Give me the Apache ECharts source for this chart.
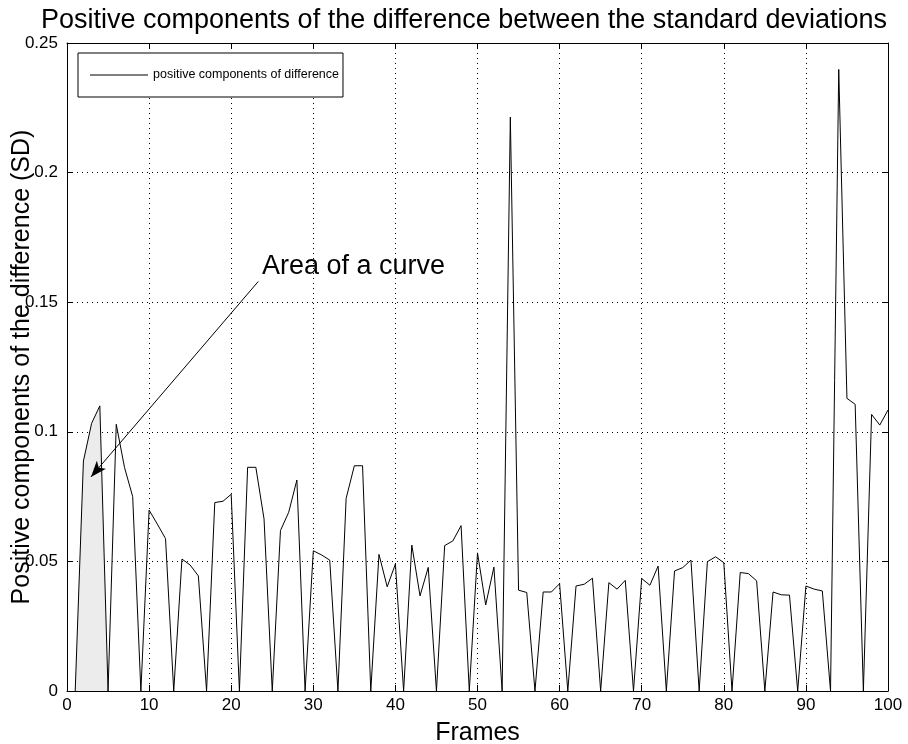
<!DOCTYPE html>
<html>
<head>
<meta charset="utf-8">
<script src="https://cdn.jsdelivr.net/npm/echarts@6/dist/echarts.min.js"></script>
<style>html,body{margin:0;padding:0;background:#fff}#c{width:908px;height:744px}</style>
</head>
<body>
<div id="c"></div>
<script>
var frames = [];
for (var i = 1; i <= 100; i++) frames.push(i);
var diffValues = [
  0, 0.0887, 0.1033, 0.1100, 0, 0.1029, 0.0863, 0.0750, 0, 0.0698,
  0.0644, 0.0588, 0, 0.0509, 0.0486, 0.0444, 0, 0.0727, 0.0732, 0.0759,
  0, 0.0863, 0.0863, 0.0664, 0, 0.0619, 0.0689, 0.0814, 0, 0.0541,
  0.0525, 0.0505, 0, 0.0743, 0.0869, 0.0869, 0, 0.0527, 0.0402, 0.0490,
  0, 0.0563, 0.0367, 0.0477, 0, 0.0561, 0.0579, 0.0638, 0, 0.0533,
  0.0332, 0.0478, 0, 0.2214, 0.0389, 0.0380, 0, 0.0382, 0.0382, 0.0414,
  0, 0.0405, 0.0412, 0.0435, 0, 0.0418, 0.0393, 0.0427, 0, 0.0434,
  0.0408, 0.0482, 0, 0.0463, 0.0476, 0.0505, 0, 0.0499, 0.0518, 0.0495,
  0, 0.0457, 0.0453, 0.0425, 0, 0.0382, 0.0371, 0.0370, 0, 0.0405,
  0.0393, 0.0386, 0, 0.2398, 0.1129, 0.1106, 0, 0.1067, 0.1026, 0.1084
];
var shadedFrames = [1, 2, 3, 4, 5];
var xTicks = [0, 10, 20, 30, 40, 50, 60, 70, 80, 90, 100];
var yTicks = [0, 0.05, 0.1, 0.15, 0.2, 0.25];
var arrowFrom = [23.3, 0.158];
var arrowTo = [2.92, 0.0826];

var mainData = frames.map(function (f, i) { return [f, diffValues[i]]; });
var shadedData = shadedFrames.map(function (f) { return [f, diffValues[f - 1]]; });

var FONT = 'Liberation Sans, Arial, Helvetica, sans-serif';
var gridLine = { show: true, lineStyle: { color: '#000', width: 1, type: [1, 4] } };
var frameLine = { show: true, onZero: false, lineStyle: { color: '#000', width: 1 } };
var inTicks = { show: true, inside: true, length: 6, lineStyle: { color: '#000' } };

var chart = echarts.init(document.getElementById('c'), null, { renderer: 'canvas' });
chart.setOption({
  backgroundColor: '#fff',
  animation: false,
  title: {
    text: 'Positive components of the difference between the standard deviations',
    left: 459, top: 2, textAlign: 'center',
    textStyle: { fontFamily: FONT, fontSize: 27, fontWeight: 'normal', color: '#000' }
  },
  legend: {
    data: ['positive components of difference'],
    left: 78, top: 53,
    orient: 'vertical',
    backgroundColor: '#fff',
    borderColor: '#000', borderWidth: 1, borderRadius: 0,
    padding: [13, 4, 13, 12],
    icon: 'rect',
    itemWidth: 58, itemHeight: 1,
    textStyle: { fontFamily: FONT, fontSize: 12.5, color: '#000', lineHeight: 18 }
  },
  grid: { left: 67, right: 20, top: 43, bottom: 53, outerBoundsMode: 'none', containLabel: false },
  xAxis: [{
    type: 'value', min: 0, max: 100, interval: 10,
    name: 'Frames', nameLocation: 'middle', nameGap: 30, nameMoveOverlap: false,
    nameTextStyle: { fontFamily: FONT, fontSize: 25, color: '#000' },
    axisLine: frameLine, axisTick: inTicks,
    axisLabel: { fontFamily: FONT, fontSize: 17, color: '#000', margin: 6 },
    splitLine: gridLine
  }, {
    type: 'value', min: 0, max: 100, interval: 10, position: 'top',
    axisLine: frameLine, axisTick: inTicks,
    axisLabel: { show: false }, splitLine: { show: false }
  }],
  yAxis: [{
    type: 'value', min: 0, max: 0.25, interval: 0.05,
    name: 'Positive components of the difference (SD)', nameLocation: 'middle', nameGap: 32,
    nameRotate: 90, nameMoveOverlap: false,
    nameTextStyle: { fontFamily: FONT, fontSize: 25, color: '#000' },
    axisLine: frameLine, axisTick: inTicks,
    axisLabel: { fontFamily: FONT, fontSize: 17, color: '#000', margin: 9,
      formatter: function (v) { return String(+v.toFixed(2)); } },
    splitLine: gridLine
  }, {
    type: 'value', min: 0, max: 0.25, interval: 0.05, position: 'right',
    axisLine: frameLine, axisTick: inTicks,
    axisLabel: { show: false }, splitLine: { show: false }
  }],
  series: [{
    name: 'area',
    type: 'line',
    data: shadedData,
    symbol: 'none',
    lineStyle: { width: 0, opacity: 0 },
    areaStyle: { color: '#ececec', opacity: 1 },
    z: 1,
    silent: true
  }, {
    name: 'positive components of difference',
    type: 'line',
    data: mainData,
    symbol: 'none',
    color: '#000',
    lineStyle: { color: '#000', width: 1 },
    z: 3,
    markLine: {
      silent: true,
      symbol: ['none', 'arrow'],
      symbolSize: [9, 16],
      lineStyle: { color: '#000', width: 1, type: 'solid' },
      label: { show: false },
      data: [[{ coord: arrowFrom }, { coord: arrowTo }]]
    }
  }],
  graphic: [{
    type: 'text',
    left: 262, top: 253,
    style: { text: 'Area of a curve', font: '27px ' + FONT, fill: '#000' }
  }]
});
</script>
</body>
</html>
